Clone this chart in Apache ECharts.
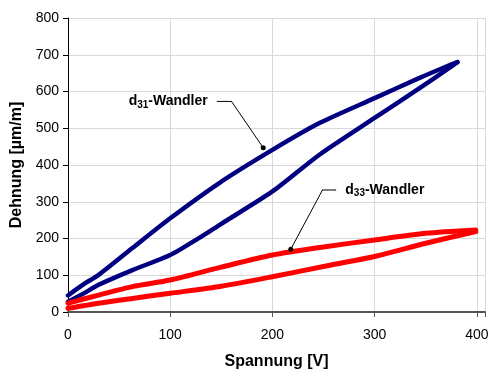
<!DOCTYPE html>
<html>
<head>
<meta charset="utf-8">
<script src="https://cdn.jsdelivr.net/npm/echarts@6/dist/echarts.min.js"></script>
<style>
    html, body { margin: 0; padding: 0; background: #fff; }
    #chart { width: 494px; height: 370px; }
</style>
</head>
<body>
<div id="chart"></div>
<script>
// d31 loop: rising branch then falling branch (Spannung V, Dehnung µm/m)
var d31Rise = [[0, 28], [15, 50], [30, 74], [63, 114], [100, 155], [128, 201], [150, 240],
    [200, 328], [246, 428], [300, 528], [344, 609], [373, 664], [381, 680]];
var d31Fall = [[381, 680], [365, 662], [344, 637], [300, 582], [246, 514], [200, 441],
    [148, 351], [100, 255], [63, 174], [30, 101], [15, 75], [0, 45]];

// d33 loop
var d33Rise = [[0, 10], [30, 24], [63, 37], [100, 51], [150, 70], [200, 96], [250, 124],
    [300, 151], [350, 187], [399, 219]];
var d33Fall = [[399, 223], [350, 214], [300, 196], [250, 177], [200, 155], [150, 122],
    [100, 87], [63, 69], [30, 46], [0, 24]];

// leader lines for the labels: start, elbow, dot
var d31Leader = [[146, 573], [160, 573], [191, 447]];
var d33Leader = [[262, 332], [249, 332], [218, 171]];

var fontName = 'Liberation Sans';

var chart = echarts.init(document.getElementById('chart'));

function loopSeries(data, color, width) {
    return {
        type: 'line',
        data: data,
        symbol: 'none',
        smooth: 0.25,
        lineStyle: { color: color, width: width, join: 'round', cap: 'round' },
        z: 3
    };
}

function leaderSeries(points, text, side) {
    var last = points.length - 1;
    return {
        type: 'line',
        data: points,
        symbol: 'circle',
        showSymbol: true,
        symbolSize: function (val, params) { return params.dataIndex === last ? 5 : 1; },
        lineStyle: { color: '#000', width: 1 },
        itemStyle: { color: '#000' },
        label: {
            show: true,
            position: side,
            distance: 9,
            formatter: function (p) {
                return p.dataIndex === 0 ? '{b|d}{s|' + text + '}{b|-Wandler}' : '';
            },
            rich: {
                b: { fontFamily: fontName, fontSize: 14, fontWeight: 'bold', color: '#000' },
                s: { fontFamily: fontName, fontSize: 10, fontWeight: 'bold', color: '#000', padding: [7, 0, 0, 0] }
            }
        },
        z: 5
    };
}

var option = {
    animation: false,
    grid: { left: 68, right: 9, top: 18, bottom: 58, outerBoundsMode: 'none', containLabel: false },
    xAxis: {
        type: 'value',
        min: 0,
        max: 408,
        interval: 100,
        name: 'Spannung [V]',
        nameLocation: 'middle',
        nameGap: 42,
        nameTextStyle: { fontFamily: fontName, fontSize: 16, fontWeight: 'bold', color: '#000' },
        axisLine: { lineStyle: { color: '#555', width: 2 } },
        axisTick: { show: true, length: 5, lineStyle: { color: '#555' } },
        axisLabel: {
            fontFamily: fontName, fontSize: 14, color: '#000', margin: 16,
            formatter: function (v) { return v % 100 === 0 ? v : ''; }
        },
        splitLine: { show: true, lineStyle: { color: '#d9d9d9', width: 1 } }
    },
    yAxis: {
        type: 'value',
        min: 0,
        max: 800,
        interval: 100,
        name: 'Dehnung [µm/m]',
        nameLocation: 'middle',
        nameGap: 43,
        nameTextStyle: { fontFamily: fontName, fontSize: 16, fontWeight: 'bold', color: '#000' },
        axisLine: { show: true, lineStyle: { color: '#000', width: 1 } },
        axisTick: { show: true, length: 5, lineStyle: { color: '#000' } },
        axisLabel: { fontFamily: fontName, fontSize: 14, color: '#000', margin: 9 },
        splitLine: { show: true, lineStyle: { color: '#d9d9d9', width: 1 } }
    },
    series: [
        loopSeries(d31Rise, '#000080', 4.5),
        loopSeries(d31Fall, '#000080', 4.5),
        loopSeries(d33Rise, '#ff0000', 5),
        loopSeries(d33Fall, '#ff0000', 5),
        leaderSeries(d31Leader, '31', 'left'),
        leaderSeries(d33Leader, '33', 'right')
    ]
};

chart.setOption(option);
</script>
</body>
</html>
